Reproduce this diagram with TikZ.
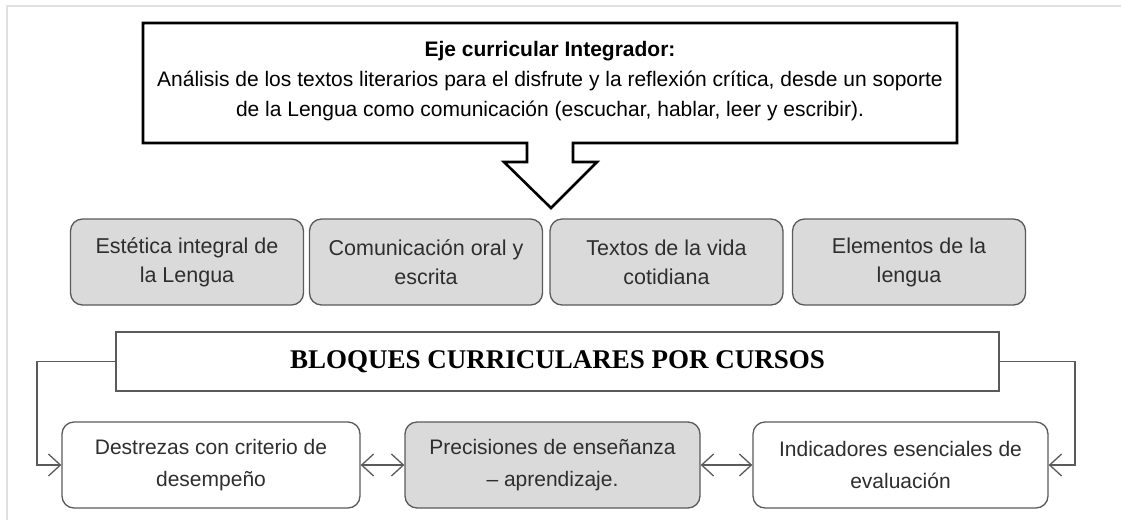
\documentclass[tikz,border=0pt]{standalone}
\usepackage{fontspec}
\setmainfont{Liberation Sans}
\newfontfamily\serifb{Liberation Serif}
\usetikzlibrary{arrows.meta}
\definecolor{boxgray}{HTML}{DADADA}
\definecolor{edgegray}{HTML}{5A5A5A}
\definecolor{txt}{HTML}{2E2E2E}
\begin{document}
\begin{tikzpicture}[x=1pt,y=-1pt,
  gbox/.style={draw=edgegray, fill=boxgray, rounded corners=12pt, line width=1.3pt,
    minimum width=233pt, minimum height=86pt, align=center, text=txt,
    font=\fontsize{21.5}{29}\selectfont},
  wbox/.style={draw=edgegray, fill=white, rounded corners=12pt, line width=1.3pt,
    minimum height=86pt, align=center, text=txt,
    font=\fontsize{21}{32}\selectfont},
  tip/.tip={Straight Barb[length=12pt,width=22pt,line width=1.3pt]},
  conn/.style={draw=edgegray, line width=1.2pt, -tip},
  dconn/.style={draw=edgegray, line width=1.2pt, tip-tip}
]
\useasboundingbox (0,0) rectangle (1121,520);
% faint frame
\draw[black!12, line width=1.5pt] (7,520) -- (7,6) -- (1121,6);

% top callout box with down arrow
\draw[line width=2.6pt, line join=miter, fill=white]
  (143,23) -- (957,23) -- (957,143) -- (573,143) -- (573,162) -- (597,162)
  -- (551,208) -- (504,162) -- (527,162) -- (527,143) -- (143,143) -- cycle;
\node[align=center, text=black, font=\fontsize{21}{30}\selectfont] (eje) at (550,81)
  {\textbf{Eje curricular Integrador:}\\
   Análisis de los textos literarios para el disfrute y la reflexión crítica, desde un soporte\\
   de la Lengua como comunicación (escuchar, hablar, leer y escribir).};

% four gray boxes
\node[gbox] (b1) at (187,262) {Estética integral de\\la Lengua};
\node[gbox] (b2) at (426,262) {Comunicación oral y\\escrita};
\node[gbox] (b3) at (666.5,262) {Textos de la vida\\cotidiana};
\node[gbox] (b4) at (909,262) {Elementos de la\\lengua};

% bloques
\node[draw=edgegray, line width=1.6pt, fill=white, minimum width=883pt, minimum height=59pt,
  text=black, font=\serifb\bfseries\fontsize{27}{30}\selectfont] (bloq) at (557.5,361.5)
  {BLOQUES CURRICULARES POR CURSOS};

% bottom boxes
\node[wbox, minimum width=298pt] (dest) at (211,465) {Destrezas con criterio de\\desempeño};
\node[wbox, fill=boxgray, minimum width=295pt] (prec) at (552.5,465) {Precisiones de enseñanza\\– aprendizaje.};
\node[wbox, minimum width=295pt] (ind) at (900.5,465) {Indicadores esenciales de\\evaluación};

% connectors
\coordinate (lc) at (37,361.5);
\coordinate (rc) at (1075,361.5);
\draw[conn] (bloq.west) -- (lc) |- (dest.west);
\draw[conn] (bloq.east) -- (rc) |- (ind.east);
\draw[dconn] (dest.east) -- (prec.west);
\draw[dconn] (prec.east) -- (ind.west);
\end{tikzpicture}
\end{document}
